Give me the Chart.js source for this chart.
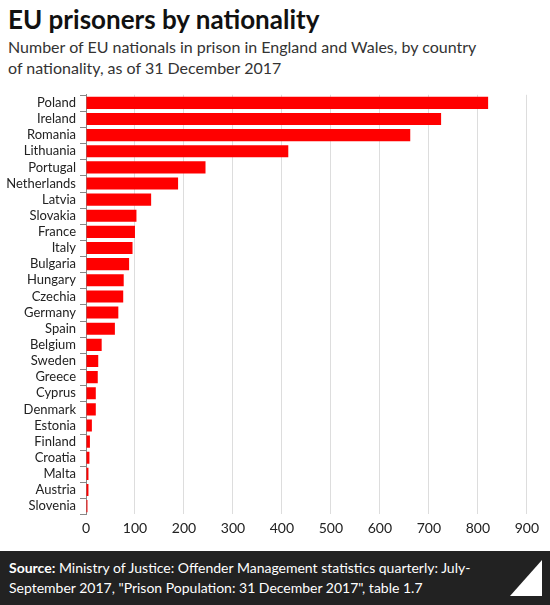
<!DOCTYPE html>
<html>
<head>
<meta charset="utf-8">
<script src="https://cdn.jsdelivr.net/npm/chart.js@4/dist/chart.umd.min.js"></script>
<style>
  body { margin: 0; width: 550px; height: 605px; background: #fff; font-family: Lato, sans-serif; position: relative; overflow: hidden; }
  h1 { position: absolute; left: 8px; top: 3px; margin: 0; font-size: 26px; font-weight: bold; color: #111; }
  .sub { position: absolute; left: 8px; top: 36px; font-size: 16px; line-height: 21px; color: #333; width: 470px; }
  #wrap { position: absolute; left: 0; top: 85px; width: 545px; height: 458px; }
  .foot { position: absolute; left: 0; top: 551px; width: 550px; height: 54px; background: #222; color: #fff; font-size: 14px; line-height: 20px; box-sizing: border-box; padding: 7px 60px 7px 9px; }
  .foot b { font-weight: bold; }
  .logo { position: absolute; right: 8px; top: 560px; width: 32px; height: 36px; }
</style>
</head>
<body>
<h1>EU prisoners by nationality</h1>
<div class="sub">Number of EU nationals in prison in England and Wales, by country of nationality, as of 31 December 2017</div>
<div id="wrap"><canvas id="chart"></canvas></div>
<div class="foot"><b>Source:</b> Ministry of Justice: Offender Management statistics quarterly: July-September 2017, "Prison Population: 31 December 2017", table 1.7</div>
<svg class="logo" viewBox="0 0 32 36"><polygon points="32,0 32,36 0,36" fill="#fff"/></svg>
<script>
const countries = ['Poland','Ireland','Romania','Lithuania','Portugal','Netherlands','Latvia','Slovakia','France','Italy','Bulgaria','Hungary','Czechia','Germany','Spain','Belgium','Sweden','Greece','Cyprus','Denmark','Estonia','Finland','Croatia','Malta','Austria','Slovenia'];
const prisoners = [821, 725, 662, 413, 244, 188, 133, 103, 100, 95, 88, 77, 76, 66, 59, 32, 25, 24, 20, 20, 12, 8, 7, 5, 5, 3];
const xTicks = [0, 100, 200, 300, 400, 500, 600, 700, 800, 900];

new Chart(document.getElementById('chart'), {
    type: 'bar',
    data: {
        labels: countries,
        datasets: [{ data: prisoners, backgroundColor: '#ff0000', barPercentage: 0.75, categoryPercentage: 1 }]
    },
    options: {
        indexAxis: 'y',
        responsive: true,
        maintainAspectRatio: false,
        animation: false,
        layout: { padding: { left: 0, right: 18, top: 0, bottom: 0 } },
        plugins: { legend: { display: false }, tooltip: { enabled: false } },
        scales: {
            x: {
                min: 0, max: 900,
                afterBuildTicks: axis => { axis.ticks = xTicks.map(v => ({ value: v })); },
                grid: { color: '#ddd', drawTicks: false },
                border: { display: false },
                ticks: { color: '#222', font: { family: 'Lato', size: 14 }, padding: 6 }
            },
            y: {
                afterFit: axis => { axis.width = 86; },
                grid: { display: false, drawOnChartArea: false },
                border: { color: '#888' },
                ticks: { autoSkip: false, color: '#222', font: { family: 'Lato', size: 13 }, padding: 2 }
            }
        }
    },
    plugins: [{
        id: 'yticks',
        afterDraw(chart) {
            const ctx = chart.ctx, y = chart.scales.y, a = chart.chartArea;
            ctx.save();
            ctx.strokeStyle = '#888';
            ctx.lineWidth = 1;
            const n = countries.length;
            const step = (y.bottom - y.top) / n;
            for (let i = 0; i <= n; i++) {
                const py = Math.round(y.top + i * step) + 0.5;
                ctx.beginPath(); ctx.moveTo(a.left - 6, py); ctx.lineTo(a.left, py); ctx.stroke();
            }
            ctx.restore();
        }
    }]
});
</script>
</body>
</html>
